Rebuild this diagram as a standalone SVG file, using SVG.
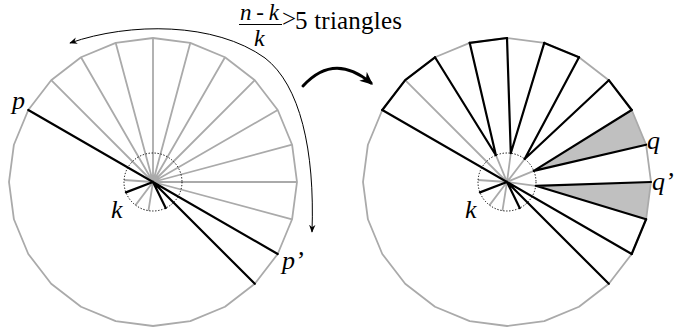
<svg xmlns="http://www.w3.org/2000/svg" width="675" height="332" viewBox="0 0 675 332">
  <style>
    .gon { fill: none; stroke: #aaaaaa; stroke-width: 1.8; stroke-linejoin: round; }
    .gray { fill: none; stroke: #aaaaaa; stroke-width: 1.8; }
    .blk { fill: none; stroke: #000000; stroke-width: 2.2; stroke-linejoin: round; stroke-linecap: round; }
    .dot { fill: none; stroke: #000000; stroke-width: 1; stroke-dasharray: 1.3 1.7; }
    .shade { fill: #c0c0c0; stroke: none; }
    .arc { fill: none; stroke: #000; stroke-width: 1; }
    .thick { fill: none; stroke: #000; stroke-width: 3; stroke-linecap: round; }
    text { font-family: 'Liberation Serif', 'DejaVu Serif', serif; }
  </style>
  <defs>
    <polygon id="gon24" points="144,0 139.09,37.27 124.71,72 101.82,101.82 72,124.71 37.27,139.09 0,144 -37.27,139.09 -72,124.71 -101.82,101.82 -124.71,72 -139.09,37.27 -144,0 -139.09,-37.27 -124.71,-72 -101.82,-101.82 -72,-124.71 -37.27,-139.09 0,-144 37.27,-139.09 72,-124.71 101.82,-101.82 124.71,-72 139.09,-37.27"/>
    <marker id="headThin" viewBox="0 0 10 10" refX="9" refY="5" markerWidth="8" markerHeight="8" markerUnits="userSpaceOnUse" orient="auto-start-reverse">
      <path d="M0,1 L10,5 L0,9 L3,5 z" fill="#000"/>
    </marker>
    <marker id="headThick" viewBox="0 0 10 10" refX="8" refY="5" markerWidth="13" markerHeight="13" markerUnits="userSpaceOnUse" orient="auto">
      <path d="M0,0.5 L10,5 L0,9.5 L3,5 z" fill="#000"/>
    </marker>
  </defs>

  <rect width="675" height="332" fill="#ffffff"/>

  <g id="left-fan" transform="translate(153,182)">
    <use href="#gon24" class="gon"/>
    <path class="gray" d="M0,0L-101.82,-101.82M0,0L-72,-124.71M0,0L-37.27,-139.09M0,0L0,-144M0,0L37.27,-139.09M0,0L72,-124.71M0,0L101.82,-101.82M0,0L124.71,-72M0,0L139.09,-37.27M0,0L144,0M0,0L139.09,37.27"/>
    <path class="gray" d="M0,0L-28.93,-2.02M0,0L-17.45,23.16M0,0L-4.54,28.64"/>
    <path class="blk" d="M-124.71,-72L124.71,72M0,0L101.82,101.82M0,0L-27.07,10.39M0,0L12.71,26.06"/>
    <circle class="dot" cx="0" cy="0" r="29"/>
  </g>

  <g id="right-fan" transform="translate(507,182)">
    <polygon class="shade" points="124.71,-72 139.09,-37.27 26.79,-11.10"/>
    <polygon class="shade" points="144,0 139.09,37.27 28.75,3.79"/>
    <use href="#gon24" class="gon"/>
    <path class="gray" d="M0,0L-101.82,-101.82M0,0L-11.10,-26.79M0,0L3.79,-28.75M0,0L17.65,-23.01M0,0L26.79,-11.10M0,0L28.75,3.79"/>
    <path class="gray" d="M0,0L-28.93,-2.02M0,0L-17.45,23.16M0,0L-4.54,28.64"/>
    <path class="blk" d="M-124.71,-72L-101.82,-101.82L-72,-124.71M-37.27,-139.09L0,-144M37.27,-139.09L72,-124.71M101.82,-101.82L124.71,-72M139.09,37.27L124.71,72"/>
    <path class="blk" d="M-72,-124.71L-11.10,-26.79L-37.27,-139.09M0,-144L3.79,-28.75L37.27,-139.09M72,-124.71L17.65,-23.01L101.82,-101.82M124.71,-72L26.79,-11.10L139.09,-37.27M144,0L28.75,3.79L139.09,37.27"/>
    <path class="blk" d="M-124.71,-72L124.71,72M0,0L101.82,101.82M0,0L-27.07,10.39M0,0L12.71,26.06"/>
    <circle class="dot" cx="0" cy="0" r="29"/>
  </g>

  <g id="connectors">
    <path class="arc" d="M70,43 C130,22 215,22 265,58 C300,85 315,150 312,232" marker-start="url(#headThin)" marker-end="url(#headThin)"/>
    <path class="thick" d="M303,86 Q334,52 371,83" marker-end="url(#headThick)"/>
  </g>

  <g id="labels" fill="#000">
    <text font-style="italic" font-size="26" x="12" y="109">p</text>
    <text font-style="italic" font-size="26" x="111" y="218">k</text>
    <text font-style="italic" font-size="26" x="282" y="269">p’</text>
    <text font-style="italic" font-size="26" x="465" y="218">k</text>
    <text font-style="italic" font-size="26" x="647" y="149">q</text>
    <text font-style="italic" font-size="26" x="652" y="190">q’</text>
    <text font-style="italic" font-size="23" x="240" y="20" textLength="39" lengthAdjust="spacing">n-k</text>
    <line x1="239" y1="24.5" x2="282" y2="24.5" stroke="#000" stroke-width="1"/>
    <text font-style="italic" font-size="24" x="254" y="45.5">k</text>
    <text font-size="25" x="282" y="27">&gt;</text>
    <text font-size="25" x="295" y="29" textLength="107" lengthAdjust="spacing">5 triangles</text>
  </g>
</svg>
